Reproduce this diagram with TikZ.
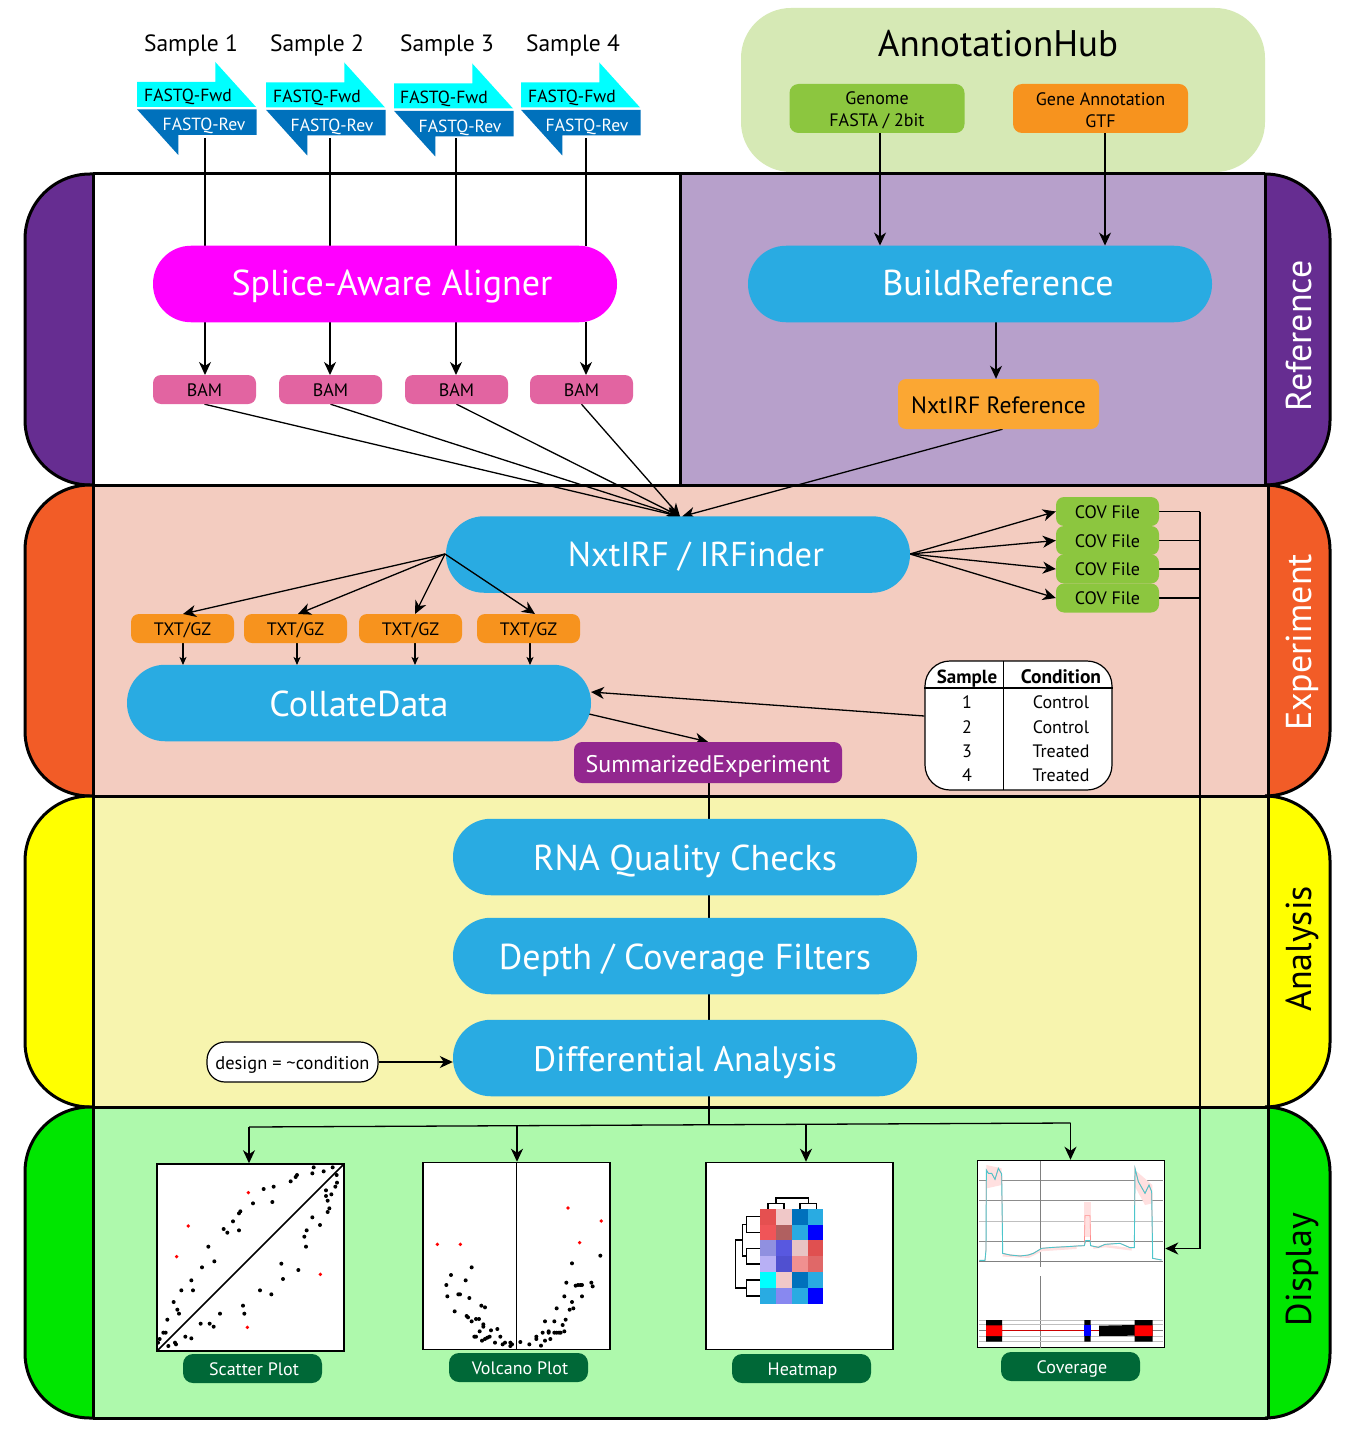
\documentclass[tikz,border=0pt]{standalone}
\usepackage{fontspec}
\setmainfont{PT Sans}
\usetikzlibrary{arrows.meta,calc}
\pgfdeclarelayer{bg}\pgfdeclarelayer{conn}
\pgfsetlayers{bg,conn,main}
\definecolor{pillblue}{HTML}{29ABE2}
\definecolor{bamc}{HTML}{E264A1}
\definecolor{orangec}{HTML}{F7931E}
\definecolor{greenc}{HTML}{8CC63F}
\definecolor{labelg}{HTML}{006837}
\definecolor{revc}{HTML}{0071BC}
\definecolor{fwdc}{HTML}{00FFFF}
\definecolor{magc}{HTML}{FF00FF}
\definecolor{tealc}{HTML}{4CC6CC}
\definecolor{refc}{HTML}{FBA733}
\newcommand{\fs}[1]{\fontsize{#1}{#1}\selectfont}
\tikzset{
 x=1pt,y=-1pt,
 pill/.style={rectangle,rounded corners=38pt,minimum width=464pt,minimum height=76.5pt,inner sep=0pt,fill=pillblue,text=white,font=\fs{36},text height=26pt,text depth=0pt},
 tag/.style={rectangle,rounded corners=8pt,minimum width=103pt,minimum height=29pt,inner sep=0pt,font=\fs{18},text=black,text height=13pt,text depth=0pt},
 bam/.style={tag,fill=bamc},
 txtgz/.style={tag,fill=orangec},
 cov/.style={tag,fill=greenc},
 plotlabel/.style={tag,fill=labelg,text=white,minimum width=139pt,rounded corners=10pt},
 source/.style={rectangle,rounded corners=9pt,minimum width=175pt,minimum height=49pt,inner sep=0pt,font=\fs{18},align=center,text=black},
 samplelabel/.style={inner sep=0pt,font=\fs{23.5},text=black,text height=17pt,text depth=0pt},
 fastq/.style={rectangle,inner sep=0pt,font=\fs{17.6},text height=12.5pt,text depth=0pt},
 plotbox/.style={rectangle,draw=black,line width=1.5pt,fill=white,minimum width=187pt,minimum height=187pt,inner sep=0pt},
 band/.style={line width=3pt,draw=black},
 sidelabel/.style={rotate=90,inner sep=0pt,font=\fs{36},text height=26pt,text depth=0pt},
 conn/.style={line width=1.3pt,draw=black},
 arr/.style={conn,-{Stealth[length=13pt,width=12pt,inset=4pt]}},
 tinyarr/.style={conn,-{Stealth[length=8pt,width=7pt,inset=2pt]}},
 cell/.style={inner sep=0pt,font=\fs{18},text=black,text height=13pt,text depth=0pt},
}
\newcommand{\arrowFwd}[2]{\fill[fwdc] (#1,#2+20) -- (#1+78.3,#2+20) -- (#1+78.3,#2) -- (#1+119,#2+45) -- (#1,#2+45) -- cycle;}
\newcommand{\arrowRev}[2]{\fill[revc] (#1,#2) -- (#1+119.7,#2) -- (#1+119.7,#2+25.7) -- (#1+41.3,#2+25.7) -- (#1+41.3,#2+45.7) -- cycle;}
\begin{document}
\begin{tikzpicture}
\useasboundingbox (0,0) rectangle (1355,1439);
\begin{pgfonlayer}{bg}
\fill[white] (0,0) rectangle (1355,1439);
% annotation hub
\fill[color={rgb,255:red,214;green,233;blue,181},rounded corners=50pt] (741,8) rectangle (1265,172);
% panels
\fill[white] (93,174) rectangle (680,485);
\fill[color={rgb,255:red,183;green,160;blue,203}] (680,174) rectangle (1265,485);
\fill[color={rgb,255:red,243;green,204;blue,192}] (93,485) rectangle (1268,796);
\fill[color={rgb,255:red,247;green,244;blue,174}] (93,796) rectangle (1268,1107);
\fill[color={rgb,255:red,174;green,249;blue,172}] (93,1107) rectangle (1268,1418);
% left tabs
\foreach \ya/\yb/\c in {174/485/{rgb,255:red,102;green,45;blue,145},485/796/{rgb,255:red,242;green,92;blue,39},796/1107/{rgb,255:red,255;green,255;blue,0},1107/1418/{rgb,255:red,0;green,230;blue,0}}{
 \filldraw[band,fill/.expanded={\c},rounded corners=65pt] (93,\ya) -- (25,\ya) -- (25,\yb) -- (93,\yb);
}
\filldraw[band,fill={rgb,255:red,102;green,45;blue,145},rounded corners=65pt] (1265,174) -- (1330,174) -- (1330,485) -- (1265,485);
\filldraw[band,fill={rgb,255:red,242;green,92;blue,39},rounded corners=65pt] (1268,485) -- (1330,485) -- (1330,796) -- (1268,796);
\filldraw[band,fill={rgb,255:red,255;green,255;blue,0},rounded corners=65pt] (1268,796) -- (1330,796) -- (1330,1107) -- (1268,1107);
\filldraw[band,fill={rgb,255:red,0;green,230;blue,0},rounded corners=65pt] (1268,1107) -- (1330,1107) -- (1330,1418) -- (1268,1418);
\draw[band] (93,174) -- (1265,174) (93,174) -- (93,1418) (680,174) -- (680,485)
 (1265,174) -- (1265,485) (1268,485) -- (1268,1418)
 (93,485) -- (1268,485) (93,796) -- (1268,796) (93,1107) -- (1268,1107) (93,1418) -- (1268,1418);
\end{pgfonlayer}

% side labels
\node[sidelabel,text=white] at (1298,336) {Reference};
\node[sidelabel,text=white] at (1298,642.5) {Experiment};
\node[sidelabel,text=black] at (1298,949) {Analysis};
\node[sidelabel,text=black] at (1298,1269.5) {Display};

% annotation hub text and sources
\node[inner sep=0pt,font=\fs{37},text=black,text height=27pt,text depth=0pt] at (998,43) {AnnotationHub};
\node[source,fill=greenc] (genome) at (877,108.5) {\rule{0pt}{16pt}Genome\\[4pt]FASTA / 2bit};
\node[source,fill=orangec] (gtf) at (1100.5,108.5) {\rule{0pt}{16pt}Gene Annotation\\[4pt]GTF};

% samples
\node[samplelabel] at (191,43) {Sample 1};
\node[samplelabel] at (317,43) {Sample 2};
\node[samplelabel] at (447,43) {Sample 3};
\node[samplelabel] at (573,43) {Sample 4};
\arrowFwd{137}{62}\arrowRev{137}{109.3}
\arrowFwd{266}{62.5}\arrowRev{266}{109.8}
\arrowFwd{394}{63.5}\arrowRev{394}{110.8}
\arrowFwd{521}{62.5}\arrowRev{521}{109.8}
\foreach \xx/\yy/\n in {188/95/1,317/96/2,444/97/3,572/96/4}{
 \node[fastq,text=black] at (\xx,\yy) {FASTQ-Fwd};
}
\node[fastq,text=white] (rev1) at (204,124) {FASTQ-Rev};
\node[fastq,text=white] (rev2) at (332,125) {FASTQ-Rev};
\node[fastq,text=white] (rev3) at (460,126) {FASTQ-Rev};
\node[fastq,text=white] (rev4) at (587,125) {FASTQ-Rev};

% pills
\node[pill,fill=magc,text height=23pt] (aligner) at (385,284) {\kern14pt Splice-Aware Aligner};
\node[pill,text height=23pt] (build) at (980,284) {\kern36pt BuildReference};
\node[pill,font=\fs{34.5},text height=23pt] (nxt) at (678,554.5) {\kern36pt NxtIRF / IRFinder};
\node[pill] (collate) at (359,703) {CollateData};
\node[pill] (rna) at (685,857) {RNA Quality Checks};
\node[pill,text height=27pt] (depth) at (685,956) {Depth / Coverage Filters};
\node[pill,font=\fs{35.3}] (diff) at (685,1058) {Differential Analysis};

% BAM
\node[bam] (bam1) at (204.5,389.5) {BAM};
\node[bam] (bam2) at (330.5,389.5) {BAM};
\node[bam] (bam3) at (456.5,389.5) {BAM};
\node[bam] (bam4) at (581.5,389.5) {BAM};
\node[tag,fill=refc,minimum width=201pt,minimum height=50pt,font=\fs{23.6},text height=18pt] (ref) at (998.5,404) {NxtIRF Reference};

% TXT
\node[txtgz] (txt1) at (182.5,628.5) {TXT/GZ};
\node[txtgz] (txt2) at (295.5,628.5) {TXT/GZ};
\node[txtgz] (txt3) at (410.5,628.5) {TXT/GZ};
\node[txtgz] (txt4) at (528.5,628.5) {TXT/GZ};

% COV
\node[cov] (cov1) at (1107.5,511.5) {COV File};
\node[cov] (cov2) at (1107.5,540.5) {COV File};
\node[cov] (cov3) at (1107.5,569) {COV File};
\node[cov] (cov4) at (1107.5,598) {COV File};

% summarized
\node[tag,fill={rgb,255:red,147;green,39;blue,143},text=white,minimum width=268pt,minimum height=41pt,font=\fs{24},text height=19pt] (se) at (708,762.5) {SummarizedExperiment};

% table
\node[rectangle,draw=black,line width=1.2pt,fill=white,rounded corners=25pt,minimum width=187pt,minimum height=129pt,inner sep=0pt] (table) at (1018.5,725.5) {};
\draw[line width=1.2pt] (table.north west |- 0,688) -- (table.north east |- 0,688);
\draw[line width=1.2pt] (1003.5,661) -- (1003.5,790);
\node[cell,font=\fs{19}\bfseries] at (967,677) {Sample};
\node[cell,font=\fs{19.5}\bfseries] at (1061,677) {Condition};
\foreach \yy/\s/\c in {702/1/Control,727/2/Control,751/3/Treated,775/4/Treated}{
 \node[cell] at (967,\yy) {\s};
 \node[cell] at (1061,\yy) {\c};
}

% design
\node[rectangle,draw=black,line width=1.2pt,fill=white,rounded corners=18pt,minimum width=171pt,minimum height=40pt,inner sep=0pt,font=\fs{18.4},text height=15pt,text depth=0pt] (design) at (292.5,1062) {design = \textasciitilde condition};

% plots
\node[plotbox] (scatter) at (250.5,1257.5) {};
\node[plotbox] (volcano) at (516.7,1256) {};
\node[plotbox] (heat) at (799.5,1256) {};
\node[plotbox] (coverage) at (1071,1254) {};
\node[plotlabel] (l1) at (252.5,1368.5) {\kern3pt Scatter Plot};
\node[plotlabel] (l2) at (518.5,1367.5) {\kern3pt Volcano Plot};
\node[plotlabel] (l3) at (801.5,1368.5) {\kern2pt Heatmap};
\node[plotlabel] (l4) at (1070.5,1366.5) {\kern3pt Coverage};

% scatter contents
\begin{scope}[shift={(140,1150)},x=0.33333pt,y=-0.33333pt]
\draw[line width=1.5pt] (50,604) -- (612,42);
\foreach \a/\b in {521/52,578/52,517/70,551/64,590/75,471/75,467/81,452/94,591/98,586/110,401/110,371/117,558/121,574/133,558/138,563/152,397/156,339/160,301/184,297/190,568/175,563/186,517/202,279/214,540/225,251/237,262/248,297/241,500/241,493/260,498/290,205/290,223/334,186/352,424/341,475/360,429/387,154/391,124/421,159/421,360/421,394/433,101/456,112/479,117/491,309/467,313/491,240/491,82/509,182/521,209/521,221/530,70/548,77/548,136/560,154/565,59/567,54/578,105/578,108/583,85/588}
 {\fill[black] (\a,\b) circle (2pt);}
\foreach \a/\b in {325/128,145/228,110/320,541/373,322/532}
 {\fill[red] (\a,\b) circle (1.9pt);}
% volcano
\draw[line width=1.5pt] (1130,37) -- (1130,599);
\foreach \a/\b in {995/352,933/375,977/391,919/405,922/439,955/433,960/433,988/444,1024/467,1035/472,944/484,980/498,984/502,995/514,1008/507,1017/507,1030/523,1030/530,1019/544,1053/541,1072/537,1003/560,1008/560,1081/560,1026/572,1035/567,1042/563,1049/560,1065/578,1088/583,1095/578,1111/578,1116/583,1111/588,1141/576,1168/583,1203/587,1189/560,1189/567,1215/572,1208/548,1226/544,1226/548,1231/567,1243/548,1250/548,1257/548,1262/548,1273/544,1268/525,1277/509,1243/514,1215/514,1289/479,1300/475,1296/456,1273/439,1250/475,1326/439,1279/398,1307/407,1314/405,1321/405,1326/405,1354/398,1358/409,1296/340,1381/317}
 {\fill[black] (\a,\b) circle (2pt);}
\foreach \a/\b in {892/283,961/283,1284/174,1384/213,1319/278}
 {\fill[red] (\a,\b) circle (1.9pt);}
\end{scope}

% heatmap contents
\begin{scope}[shift={(700,1150)},x=0.33333pt,y=-0.33333pt]
\def\hy{{176,224,271,319,366,414,461}}
\foreach \r/\i/\ca/\cb/\cc/\cd in {
 0/1/E55050/F0C8C8/0071BC/29ABE2,
 1/2/F05558/B06060/29ABE2/0000FF,
 2/3/9090E0/5858E0/E8C4C4/E05050,
 3/4/B8B0F5/5050D0/F09090/E06868,
 4/5/00FFFF/F0C8C8/0071BC/29ABE2,
 5/6/29ABE2/8888F0/29ABE2/0000FF}{
 \pgfmathsetmacro\ya{\hy[\r]}\pgfmathsetmacro\yb{\hy[\i]}
 \definecolor{h1}{HTML}{\ca}\definecolor{h2}{HTML}{\cb}\definecolor{h3}{HTML}{\cc}\definecolor{h4}{HTML}{\cd}
 \fill[h1] (181,\ya) rectangle (228,\yb);
 \fill[h2] (228,\ya) rectangle (275,\yb);
 \fill[h3] (275,\ya) rectangle (323,\yb);
 \fill[h4] (323,\ya) rectangle (370,\yb);
}
\draw[line width=1.1pt] (204,176) -- (204,160) -- (252,160) -- (252,176)
 (300,176) -- (300,160) -- (349,160) -- (349,176)
 (228,160) -- (228,144) -- (325,144) -- (325,160)
 (180,200) -- (140,200) -- (140,247) -- (180,247)
 (180,295) -- (140,295) -- (140,342) -- (180,342)
 (180,390) -- (140,390) -- (140,438) -- (180,438)
 (140,224) -- (127,224) -- (127,318) -- (140,318)
 (127,270) -- (107,270) -- (107,414) -- (140,414);
% coverage contents
\draw[gray!90,line width=.7pt] (838,91) -- (1390,91) (838,151) -- (1390,151) (838,274) -- (1390,274);
\draw[gray!50,line width=1pt] (838,213) -- (1390,213);
\draw[gray,line width=1pt] (838,334) -- (1390,334);
\draw[gray,line width=.5pt] (1021,32) -- (1021,350) (1021,378) -- (1021,594);
\def\covA{(838,331) -- (855,331) -- (858,300) -- (859,60) -- (865,70) -- (875,70) -- (885,88) -- (895,55) -- (905,72) -- (908,310) -- (930,315) -- (960,318) -- (985,315) -- (1000,310) -- (1025,295) -- (1060,292) -- (1100,290) -- (1130,288) -- (1153,287)}
\def\covB{(1172,287) -- (1195,292) -- (1215,283) -- (1260,280) -- (1290,293) -- (1303,293) -- (1305,55) -- (1315,95) -- (1335,130) -- (1347,105) -- (1355,125) -- (1358,325) -- (1385,330)}
\fill[red!12] (859,45) -- (905,55) -- (905,105) -- (860,115) -- cycle;
\fill[red!12] (1153,155) -- (1172,155) -- (1172,260) -- (1153,260) -- cycle;
\fill[red!12] (1305,60) -- (1357,105) -- (1357,160) -- (1335,165) -- (1305,110) -- cycle;
\draw[red!12,line width=2.5pt,line join=round] (908,316) -- (985,320) -- (1025,300) -- (1130,293) (1180,293) -- (1215,288) -- (1295,298);
\draw[red!45,line width=.6pt] \covA -- (1155,197) -- (1170,197) -- \covB;
\draw[tealc,line width=.9pt] \covA -- (1157,272) -- (1170,272) -- \covB;
\draw[gray!50,line width=.8pt] (838,510) -- (1390,510) (838,524) -- (1390,524) (838,560) -- (1390,560) (838,575) -- (1390,575);
\draw[gray,line width=.8pt] (838,542) -- (1390,542);
\draw[red!80!black,line width=.7pt] (906,542) -- (1197,542);
\fill[black] (858,510) rectangle (906,575) (1153,510) rectangle (1172,575);
\fill[black] (1197,527) -- (1304,525) -- (1304,510) -- (1358,510) -- (1358,575) -- (1304,575) -- (1304,557) -- (1197,558) -- cycle;
\fill[red] (858,526) rectangle (906,558) (1304,526) rectangle (1358,558);
\fill[blue] (1153,526) rectangle (1172,558);
\end{scope}

% connectors
\coordinate (x1) at (205,246); \coordinate (x2) at (330,246); \coordinate (x3) at (456,246); \coordinate (x4) at (586,246);
\coordinate (nxtin) at (680,516.5);
\coordinate (nxtL) at (445,554); \coordinate (nxtR) at (910,554);
\coordinate (bus1) at (249,1127); \coordinate (bus2) at (517,1125.5); \coordinate (bus3) at (806,1124); \coordinate (bus4) at (1070.5,1123);
\coordinate (busJ) at (709,1124.7);
\coordinate (covbus1) at (1200,511.5); \coordinate (covbus2) at (1200,1248.5);
\begin{pgfonlayer}{conn}
\foreach \n/\xx in {1/205,2/330,3/456,4/586}{
 \draw[conn] (\xx,138) -- (x\n);
 \draw[arr] (\xx,322) -- (\xx,375);
}
\foreach \n in {1,2,3,4}{ \draw[arr] (bam\n.south) -- (nxtin); }
\draw[arr] (ref.south) ++(4,0) -- ([xshift=2pt]nxtin);
\draw[arr] (build.south -| 996,0) -- (ref.north -| 996,0);
\draw[arr] (genome.south -| 880,0) -- (build.north -| 880,0);
\draw[arr] (gtf.south -| 1105,0) -- (build.north -| 1105,0);
\foreach \n/\xx in {1/183,2/297,3/415,4/530}{ \draw[tinyarr] (\xx,643) -- (\xx,665); }
\foreach \n in {1,2,3,4}{
 \draw[arr] (nxtR) -- (cov\n.west);
 \draw[conn] (cov\n.east) -- (cov\n.east -| covbus1);
}
\draw[conn] (covbus1) -- (covbus2);
\draw[arr] (covbus2) -- (coverage.east |- covbus2);
\draw[arr] (table.west |- 0,716) -- (591,692);
\draw[arr] (589,714) -- (se.north);
\draw[conn] (se.south -| busJ) -- (busJ);
\draw[arr] (design.east) -- (diff.west |- design.east);
\draw[conn] (bus1) -- (bus4);
\draw[arr] (bus1) -- (bus1 |- scatter.north);
\draw[arr] (bus2) -- (bus2 |- volcano.north);
\draw[arr] (bus3) -- (bus3 |- heat.north);
\draw[arr] (bus4) -- (bus4 |- coverage.north);
\end{pgfonlayer}
% these start on the pill's corner and run over it
\foreach \xx in {183,298,415,535}{ \draw[arr] (nxtL) -- (\xx,614); }
\end{tikzpicture}
\end{document}
